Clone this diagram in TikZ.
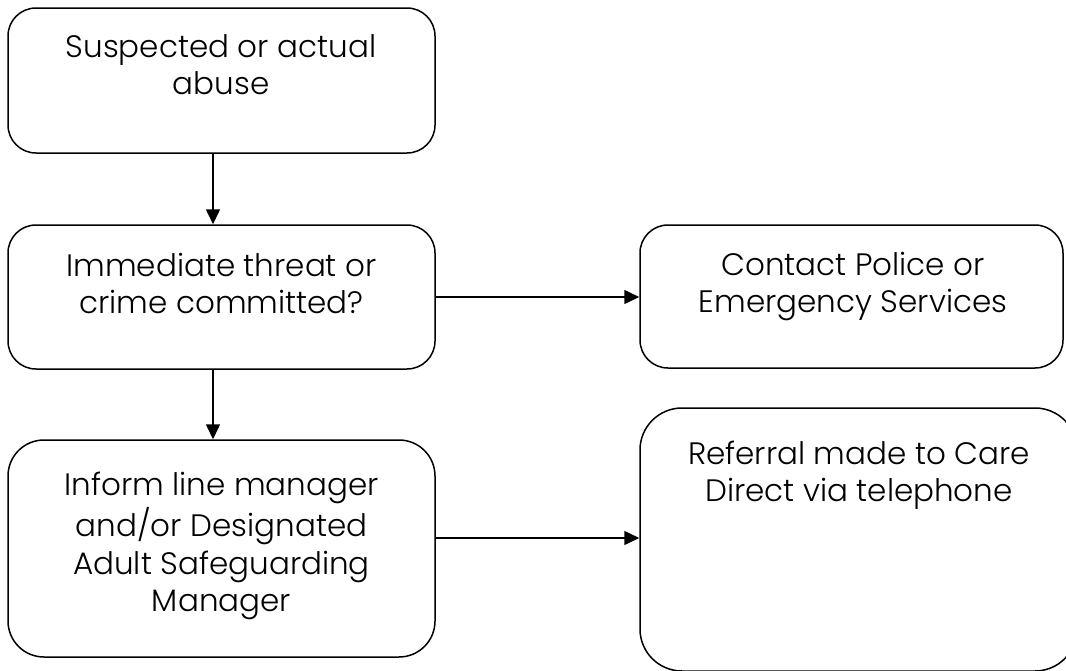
\documentclass[tikz,border=0pt]{standalone}
\usepackage{fontspec}
\setmainfont{Poppins}[UprightFont={* Light}]
\usetikzlibrary{arrows.meta}
\tikzset{
  boxnode/.style={draw=black, line width=1.5pt, fill=white, rounded corners=#1, inner sep=0pt},
  boxnode/.default=28pt,
  boxtext/.style={align=center, inner sep=0pt, anchor=north, font=\fontsize{31}{37.5}\selectfont},
  arr/.style={line width=1.5pt, -{Triangle[length=15pt,width=14pt]}}
}
\begin{document}
\begin{tikzpicture}[x=1pt,y=-1pt]
\useasboundingbox (0,0) rectangle (1066,670);
\node[boxnode, minimum width=427pt, minimum height=145pt] (b1) at (221.5,80.5) {};
\node[boxnode, minimum width=427pt, minimum height=144pt] (b2) at (221.5,297) {};
\node[boxnode, minimum width=423pt, minimum height=143pt] (b3) at (851.5,296.5) {};
\node[boxnode=36pt, minimum width=427pt, minimum height=217pt] (b4) at (221.5,548.5) {};
\node[boxnode=42pt, minimum width=437pt, minimum height=263pt] (b5) at (858.5,539.5) {};

\node[boxtext] (t1) at (221,57-26.25) {\strut Suspected or actual\\abuse};
\node[boxtext] (t2) at (221.5,276-26.25) {\strut Immediate threat or\\crime committed?};
\node[boxtext] (t3) at (853,275-26.25) {\strut Contact Police or\\Emergency Services};
\node[boxtext] (t4) at (221.5,495-26.25) {\strut Inform line manager\\and/or Designated\\Adult Safeguarding\\Manager};
\node[boxtext] (t5) at (859,464-26.25) {\strut Referral made to Care\\Direct via telephone};

\draw[arr] ([xshift=-8.5pt]b1.south) -- ([xshift=-8.5pt]b2.north);
\draw[arr] ([xshift=-8.5pt]b2.south) -- ([xshift=-8.5pt]b4.north);
\draw[arr] (b2.east) -- (b2.east -| b3.west);
\draw[arr] ([yshift=10.5pt]b4.east) -- ([yshift=10.5pt]b4.east -| b5.west);
\end{tikzpicture}
\end{document}
